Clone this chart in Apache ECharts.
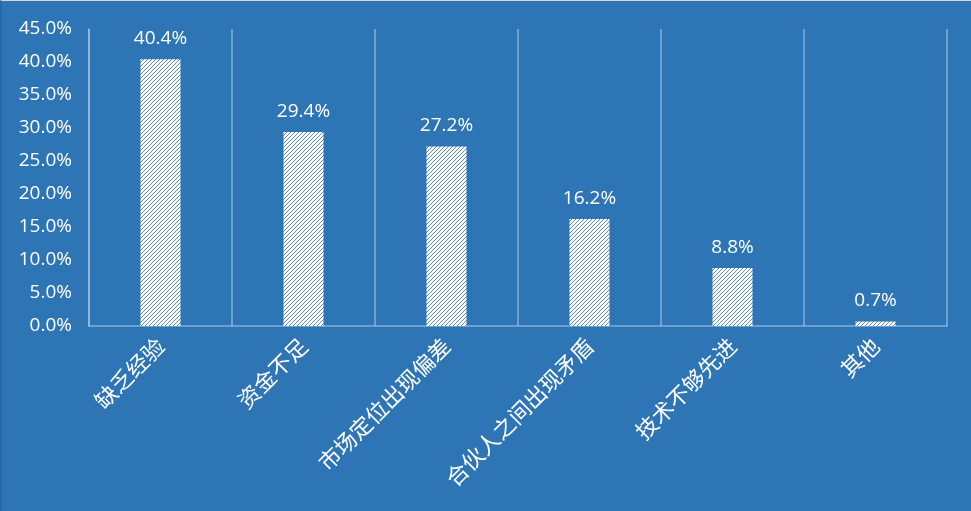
<!DOCTYPE html>
<html>
<head>
<meta charset="utf-8">
<script src="https://cdn.jsdelivr.net/npm/echarts@6/dist/echarts.min.js"></script>
<style>
    html, body { margin: 0; padding: 0; background: #2e75b6; }
    #wrap { width: 971px; height: 511px; box-sizing: border-box; border-top: 1px solid #d9d9d9; border-left: 2px solid #2b67a3; }
    #chart { width: 969px; height: 510px; }
</style>
</head>
<body>
<div id="wrap"><div id="chart"></div></div>
<script>
var categories = ['缺乏经验', '资金不足', '市场定位出现偏差', '合伙人之间出现矛盾', '技术不够先进', '其他'];
var values = [40.4, 29.4, 27.2, 16.2, 8.8, 0.7];

// 斜线填充
function hatch() {
    var c = document.createElement('canvas');
    c.width = 4;
    c.height = 4;
    var ctx = c.getContext('2d');
    ctx.fillStyle = '#ffffff';
    ctx.fillRect(0, 0, 4, 4);
    ctx.strokeStyle = '#5b8fc9';
    ctx.lineWidth = 1;
    ctx.beginPath();
    ctx.moveTo(0, 4); ctx.lineTo(4, 0);
    ctx.moveTo(-1, 1); ctx.lineTo(1, -1);
    ctx.moveTo(3, 5); ctx.lineTo(5, 3);
    ctx.stroke();
    return c;
}

var chart = echarts.init(document.getElementById('chart'));
var lineColor = 'rgba(200,220,245,0.55)';
var option = {
    backgroundColor: '#2e75b6',
    animation: false,
    grid: {
        left: 87,
        right: 24,
        top: 28,
        bottom: 185
    },
    xAxis: {
        type: 'category',
        data: categories,
        axisTick: { show: false },
        axisLine: { lineStyle: { color: lineColor, width: 1.5 } },
        splitLine: { show: true, interval: 0, lineStyle: { color: lineColor, width: 1.5 } },
        axisLabel: {
            interval: 0,
            rotate: 45,
            margin: 16,
            color: '#ffffff',
            fontSize: 22,
            fontFamily: 'Noto Sans CJK SC'
        }
    },
    yAxis: {
        type: 'value',
        min: 0,
        max: 45,
        interval: 5,
        splitLine: { show: false },
        axisLine: { show: true, lineStyle: { color: lineColor, width: 1.5 } },
        axisLabel: {
            color: '#ffffff',
            fontSize: 19,
            margin: 17,
            fontFamily: 'Open Sans',
            formatter: function (v) { return v.toFixed(1) + '%'; }
        }
    },
    series: [{
        type: 'bar',
        data: values,
        barWidth: 40,
        itemStyle: {
            color: { image: hatch(), repeat: 'repeat' }
        },
        label: {
            show: true,
            position: 'top',
            distance: 11,
            color: '#ffffff',
            fontSize: 19,
            fontFamily: 'Open Sans',
            formatter: function (p) { return p.value.toFixed(1) + '%'; }
        }
    }]
};
chart.setOption(option);
</script>
</body>
</html>
